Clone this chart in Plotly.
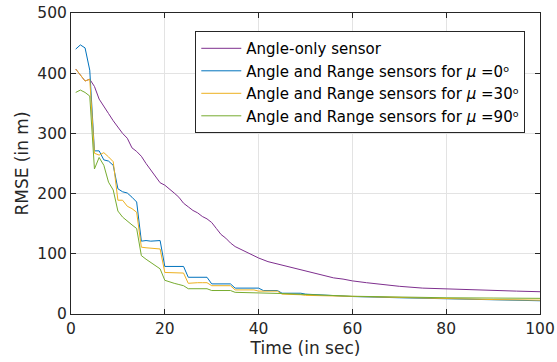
import plotly.graph_objects as go

# Angle-only sensor
t_angle = [1,2,3,4,5,6,7,8,9,10,11,12,13,14,15,16,17,18,19,20,21,22,23,24,25,26,27,28,29,30,
           31,32,33,34,35,36,37,38,39,40,42,44,46,48,50,52,54,56,58,60,63,66,70,75,80,85,90,95,100]
y_angle = [407,397,387,390,378,357,344,333,321,310,300,292,276,270,262,250,240,228,218,214,
           208,201,194,184,178,172,168,162,158,152,142,132,126,118,112,108,104,100,97,93,
           87,83,79,75,71,67,63,60,58,55,52,49,46,43,41.5,40,39,38,37]

# Angle and Range, mu = 0
t_mu0 = [1,2,3,4,5,6,7,8,9,10,11,12,13,14,15,16,17,18,19,20,21,22,23,24,25,26,27,28,29,30,
         31,32,33,34,35,36,37,38,39,40,41,42,43,44,45,46,47,48,49,50,55,60,70,80,90,100]
y_mu0 = [440,447,442,405,271,271,256,254,247,208,203,201,194,186,121,122,121,122,122,79,
         79,79,79,79,61,61,61,61,61,50,50,50,50,50,43,43,43,43,43,43,39,39,39,39,34.5,34.5,
         34.5,34.5,34.5,33,31,29,27,25,23,22]

# Angle and Range, mu = 30
t_mu30 = [1,2,3,4,5,6,7,8,9,10,11,12,13,14,15,16,17,18,19,20,21,22,23,24,25,26,27,28,29,30,
          31,32,33,34,35,36,37,38,39,40,41,42,43,44,45,46,47,48,49,50,55,60,70,80,90,100]
y_mu30 = [407,397,387,390,267,264,268,261,253,189,189,179,175,169,111,110,109,108,108,69,
          69,68,68,68,51,52,52,52,52,47,47,47,47,47,40,40,40,40,40,38,38,38,38,38,33,33,
          33,33,32,31,30,29,27,26,24,23]

# Angle and Range, mu = 90
t_mu90 = [1,2,3,4,5,6,7,8,9,10,11,12,13,14,15,16,17,18,19,20,21,22,23,24,25,26,27,28,29,30,
          31,32,33,34,35,36,37,38,39,40,45,50,55,60,70,80,90,100]
y_mu90 = [368,372,368,362,241,260,247,219,206,171,161,154,148,142,97,91,86,80,75,56,
          53,51,49,47,42,42,42,42,42,39,39,39,39,39,36,36,36,35,35,35,34,32,31,29.5,28,27,
          26.5,26]

names = ["Angle-only sensor",
         "Angle and Range sensors for <i>μ</i> =0ᵒ",
         "Angle and Range sensors for <i>μ</i> =30ᵒ",
         "Angle and Range sensors for <i>μ</i> =90ᵒ"]
colors = ["#7E2F8E", "#0072BD", "#EDB120", "#77AC30"]
series = [(t_angle, y_angle), (t_mu0, y_mu0), (t_mu30, y_mu30), (t_mu90, y_mu90)]

FONT = "DejaVu Sans, Arial"

fig = go.Figure()
for (tx, ty), nm, c in zip(series, names, colors):
    fig.add_trace(go.Scatter(x=tx, y=ty, mode="lines", name=nm,
                             line=dict(color=c, width=1)))

axis_common = dict(showline=True, linecolor="#262626", linewidth=1, mirror="ticks",
                   ticks="inside", ticklen=5, tickcolor="#262626", automargin=False,
                   showgrid=True, gridcolor="#e3e3e3", gridwidth=1, zeroline=False,
                   tickfont=dict(family=FONT, size=15.5, color="#262626"))

fig.update_xaxes(range=[0, 100], dtick=20, **axis_common,
                 title=dict(text="Time (in sec)", standoff=2,
                            font=dict(family=FONT, size=17, color="#262626")))
fig.update_yaxes(range=[0, 500], dtick=100, **axis_common,
                 title=dict(text="RMSE (in m)", standoff=4,
                            font=dict(family=FONT, size=17, color="#262626")))

fig.update_layout(
    width=557, height=362,
    margin=dict(l=71, r=17, t=13, b=48, autoexpand=False),
    plot_bgcolor="white", paper_bgcolor="white",
    showlegend=True,
    legend=dict(x=0.265, y=0.94, xanchor="left", yanchor="top",
                bgcolor="white", bordercolor="#262626", borderwidth=1,
                font=dict(family=FONT, size=15, color="#000000"),
                tracegroupgap=0, itemwidth=40),
)

fig.write_html("out.html")
